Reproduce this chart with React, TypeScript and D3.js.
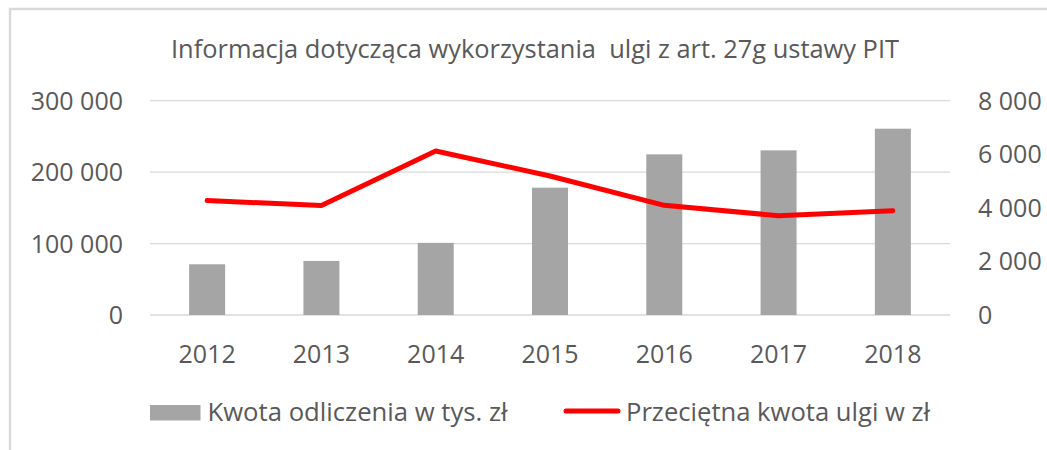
import React from "react";
import * as d3 from "d3";

const years = ["2012", "2013", "2014", "2015", "2016", "2017", "2018"];
const kwotaOdliczenia = [71000, 75700, 101000, 178200, 224900, 230500, 260800];
const przecietnaKwota = [4273, 4086, 6122, 5190, 4095, 3707, 3894];
const leftTicks = [0, 100000, 200000, 300000];
const rightTicks = [0, 2000, 4000, 6000, 8000];
const title = "Informacja dotycząca wykorzystania  ulgi z art. 27g ustawy PIT";
const legendBar = "Kwota odliczenia w tys. zł";
const legendLine = "Przeciętna kwota ulgi w zł";

const W = 1047;
const H = 450;
const plotLeft = 150;
const plotRight = 950;
const plotTop = 100.7;
const plotBottom = 315;
const textColor = "#595959";
const gridColor = "#d9d9d9";
const font = "'Open Sans', 'DejaVu Sans', sans-serif";

const fmt = (v: number) =>
  d3.format(",")(v).replace(/,/g, "\u00a0");

export default function App() {
  const x = d3
    .scaleBand<string>()
    .domain(years)
    .range([plotLeft, plotRight])
    .paddingInner(0.685)
    .paddingOuter(0.3425);
  const yL = d3.scaleLinear().domain([0, 300000]).range([plotBottom, plotTop]);
  const yR = d3.scaleLinear().domain([0, 8000]).range([plotBottom, plotTop]);
  const cx = (y: string) => (x(y) as number) + x.bandwidth() / 2;

  const line = d3
    .line<number>()
    .x((_, i) => cx(years[i]))
    .y((d) => yR(d));

  return (
    <svg
      width={W}
      height={H}
      style={{ position: "absolute", left: 0, top: 0, background: "#fff" }}
      fontFamily={font}
    >
      <rect x={0} y={0} width={W} height={H} fill="#fff" />
      {/* chart frame */}
      <path d={`M10,${H} L10,9 L${W},9`} fill="none" stroke={gridColor} strokeWidth={2.5} />

      <text
        x={535}
        y={57.5}
        textAnchor="middle"
        fontSize={25}
        fill={textColor}
        textLength={728}
        lengthAdjust="spacingAndGlyphs"
        style={{ whiteSpace: "pre" }}
      >
        {title}
      </text>

      {/* gridlines */}
      {leftTicks.map((t) => (
        <line
          key={"g" + t}
          x1={plotLeft}
          x2={plotRight}
          y1={yL(t)}
          y2={yL(t)}
          stroke={gridColor}
          strokeWidth={1.3}
        />
      ))}

      {/* left axis labels */}
      {leftTicks.map((t) => (
        <text
          key={"l" + t}
          x={123}
          y={yL(t)}
          dy="0.36em"
          textAnchor="end"
          fontSize={25}
          fill={textColor}
        >
          {fmt(t)}
        </text>
      ))}

      {/* right axis labels */}
      {rightTicks.map((t) => (
        <text
          key={"r" + t}
          x={978}
          y={yR(t)}
          dy="0.36em"
          textAnchor="start"
          fontSize={25}
          fill={textColor}
        >
          {fmt(t)}
        </text>
      ))}

      {/* bars */}
      {kwotaOdliczenia.map((v, i) => (
        <rect
          key={"b" + i}
          x={x(years[i])}
          y={yL(v)}
          width={x.bandwidth()}
          height={yL(0) - yL(v)}
          fill="#a5a5a5"
        />
      ))}

      {/* line */}
      <path
        d={line(przecietnaKwota) || ""}
        fill="none"
        stroke="#ff0000"
        strokeWidth={5}
        strokeLinecap="round"
        strokeLinejoin="round"
      />

      {/* x labels */}
      {years.map((y) => (
        <text
          key={"x" + y}
          x={cx(y)}
          y={362.5}
          textAnchor="middle"
          fontSize={25}
          fill={textColor}
        >
          {y}
        </text>
      ))}

      {/* legend */}
      <rect x={150} y={405} width={50.5} height={15.5} fill="#a5a5a5" />
      <text
        x={207.5}
        y={420.5}
        fontSize={25}
        fill={textColor}
        textLength={300}
        lengthAdjust="spacingAndGlyphs"
      >
        {legendBar}
      </text>
      <line x1={566} x2={618} y1={411} y2={411} stroke="#ff0000" strokeWidth={5} strokeLinecap="round" />
      <text
        x={626}
        y={420.5}
        fontSize={25}
        fill={textColor}
        textLength={304}
        lengthAdjust="spacingAndGlyphs"
      >
        {legendLine}
      </text>
    </svg>
  );
}
